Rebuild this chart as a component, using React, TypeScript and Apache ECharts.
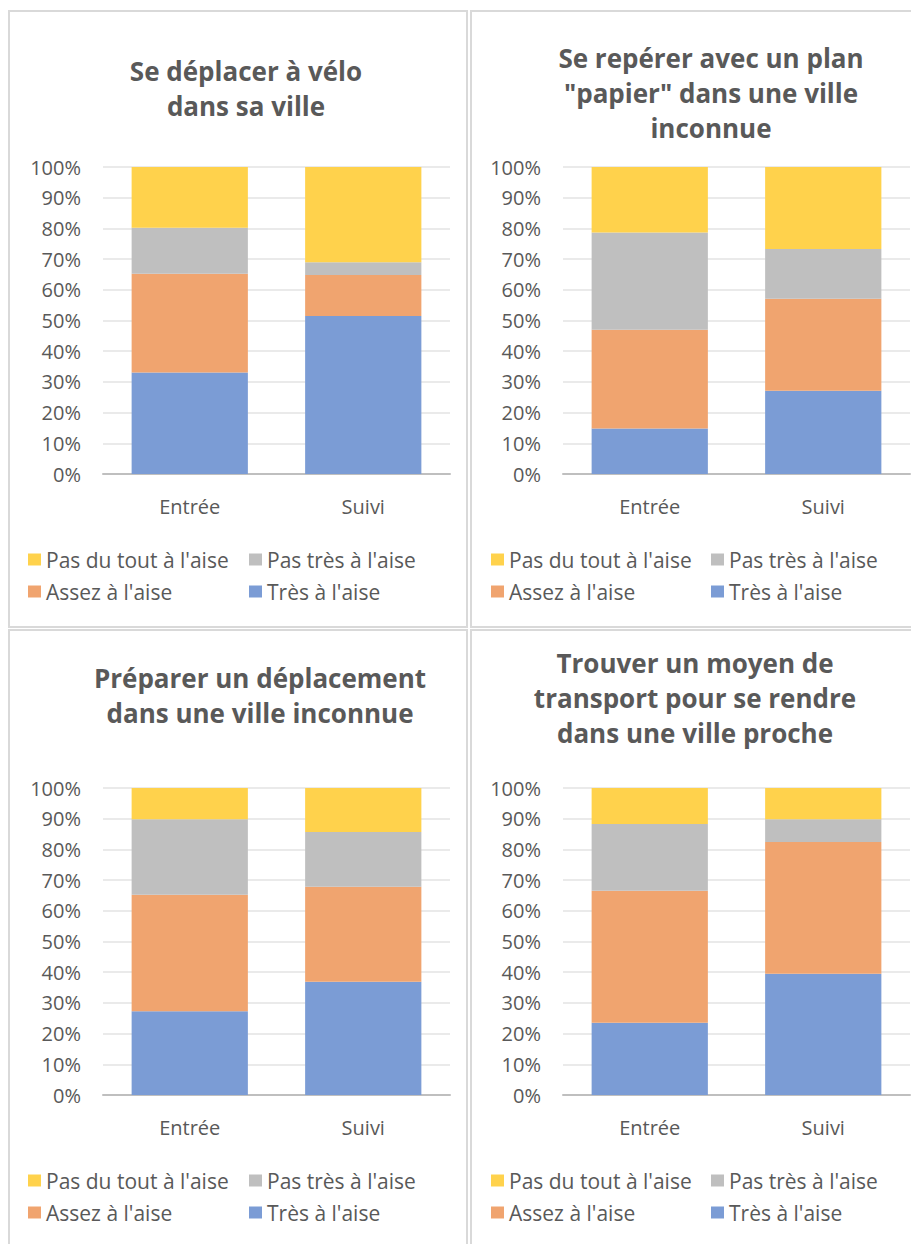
import React, { useEffect, useRef } from "react";
import * as echarts from "echarts";

const CATEGORIES = ["Entrée", "Suivi"];
const SERIES_NAMES = ["Très à l'aise", "Assez à l'aise", "Pas très à l'aise", "Pas du tout à l'aise"];
const COLORS = ["#7B9CD5", "#F0A46F", "#BFBFBF", "#FFD24C"];

const TITLES = [
  "Se déplacer à vélo\ndans sa ville",
  "Se repérer avec un plan\n\"papier\" dans une ville\ninconnue",
  "Préparer un déplacement\ndans une ville inconnue",
  "Trouver un moyen de\ntransport pour se rendre\ndans une ville proche",
];

// Panel 1 : Se déplacer à vélo dans sa ville
const veloTres = [33.1, 51.5];
const veloAssez = [32.1, 13.3];
const veloPasTres = [15.0, 4.2];
const veloPasDuTout = [19.8, 31.0];

// Panel 2 : Se repérer avec un plan "papier"
const planTres = [14.8, 27.1];
const planAssez = [32.2, 30.0];
const planPasTres = [31.7, 16.2];
const planPasDuTout = [21.3, 26.7];

// Panel 3 : Préparer un déplacement
const prepTres = [27.3, 36.9];
const prepAssez = [37.9, 30.9];
const prepPasTres = [24.6, 17.9];
const prepPasDuTout = [10.2, 14.3];

// Panel 4 : Trouver un moyen de transport
const transTres = [23.5, 39.5];
const transAssez = [43.0, 42.9];
const transPasTres = [21.8, 7.4];
const transPasDuTout = [11.7, 10.2];

const PANEL_DATA = [
  [veloTres, veloAssez, veloPasTres, veloPasDuTout],
  [planTres, planAssez, planPasTres, planPasDuTout],
  [prepTres, prepAssez, prepPasTres, prepPasDuTout],
  [transTres, transAssez, transPasTres, transPasDuTout],
];

// layout
const GRIDS = [
  { left: 103, top: 167, width: 347, height: 307 },
  { left: 563, top: 167, width: 347, height: 307 },
  { left: 103, top: 788, width: 347, height: 307 },
  { left: 563, top: 788, width: 347, height: 307 },
];
const TITLE_POS = [
  { x: 246, y: 53 },
  { x: 711, y: 40 },
  { x: 260, y: 660 },
  { x: 695, y: 645 },
];
const LEGEND_POS = [
  { c1: 28, c2: 249, y: 549 },
  { c1: 491, c2: 711, y: 549 },
  { c1: 28, c2: 249, y: 1170 },
  { c1: 491, c2: 711, y: 1170 },
];

const FONT = "'Open Sans', sans-serif";
const TEXT_COLOR = "#595959";

export default function App() {
  const ref = useRef<HTMLDivElement>(null);

  useEffect(() => {
    if (!ref.current) return;
    const chart = echarts.init(ref.current, undefined, { renderer: "svg" });

    const grid = GRIDS.map((g) => ({ ...g, containLabel: false }));
    const xAxis = GRIDS.map((_, i) => ({
      type: "category",
      gridIndex: i,
      data: CATEGORIES,
      axisTick: { show: false },
      axisLine: { lineStyle: { color: "#BFBFBF", width: 2 } },
      axisLabel: { color: TEXT_COLOR, fontSize: 20, fontFamily: FONT, margin: 22 },
    }));
    const yAxis = GRIDS.map((_, i) => ({
      type: "value",
      gridIndex: i,
      min: 0,
      max: 100,
      interval: 10,
      axisLine: { show: false },
      axisTick: { show: false },
      axisLabel: {
        color: TEXT_COLOR,
        fontSize: 20,
        fontFamily: FONT,
        margin: 22,
        formatter: "{value}%",
      },
      splitLine: { lineStyle: { color: "#E3E3E3", width: 1.5 } },
    }));

    const series: any[] = [];
    PANEL_DATA.forEach((panel, p) => {
      panel.forEach((values, s) => {
        series.push({
          type: "bar",
          name: SERIES_NAMES[s],
          xAxisIndex: p,
          yAxisIndex: p,
          stack: "panel" + p,
          data: values,
          barCategoryGap: "33%",
          itemStyle: { color: COLORS[s] },
          emphasis: { disabled: true },
        });
      });
    });

    const title = TITLES.map((t, i) => ({
      text: t,
      left: TITLE_POS[i].x,
      top: TITLE_POS[i].y,
      textAlign: "center",
      padding: 0,
      textStyle: {
        color: TEXT_COLOR,
        fontSize: 26,
        fontWeight: "bold",
        fontFamily: FONT,
        lineHeight: 35,
      },
    }));

    const legend: any[] = [];
    LEGEND_POS.forEach((pos) => {
      const common = {
        orient: "vertical",
        top: pos.y,
        padding: 0,
        itemGap: 11,
        itemWidth: 13,
        itemHeight: 12,
        icon: "rect",
        selectedMode: false,
        textStyle: { color: TEXT_COLOR, fontSize: 21, fontFamily: FONT, lineHeight: 20 },
      };
      legend.push({ ...common, left: pos.c1, data: [SERIES_NAMES[3], SERIES_NAMES[1]] });
      legend.push({ ...common, left: pos.c2, data: [SERIES_NAMES[2], SERIES_NAMES[0]] });
    });

    const borderStyle = { fill: "none", stroke: "#D9D9D9", lineWidth: 2 };
    const graphic = [
      { type: "rect", shape: { x: 9, y: 11, width: 458, height: 616 }, style: borderStyle, silent: true },
      { type: "rect", shape: { x: 471, y: 11, width: 450, height: 616 }, style: borderStyle, silent: true },
      { type: "rect", shape: { x: 9, y: 630, width: 458, height: 630 }, style: borderStyle, silent: true },
      { type: "rect", shape: { x: 471, y: 630, width: 450, height: 630 }, style: borderStyle, silent: true },
    ];

    chart.setOption({
      animation: false,
      backgroundColor: "#FFFFFF",
      title,
      legend,
      grid,
      xAxis,
      yAxis,
      series,
      graphic,
    });

    return () => chart.dispose();
  }, []);

  return (
    <div
      ref={ref}
      style={{ position: "absolute", left: 0, top: 0, width: 911, height: 1244, background: "#fff" }}
    />
  );
}
